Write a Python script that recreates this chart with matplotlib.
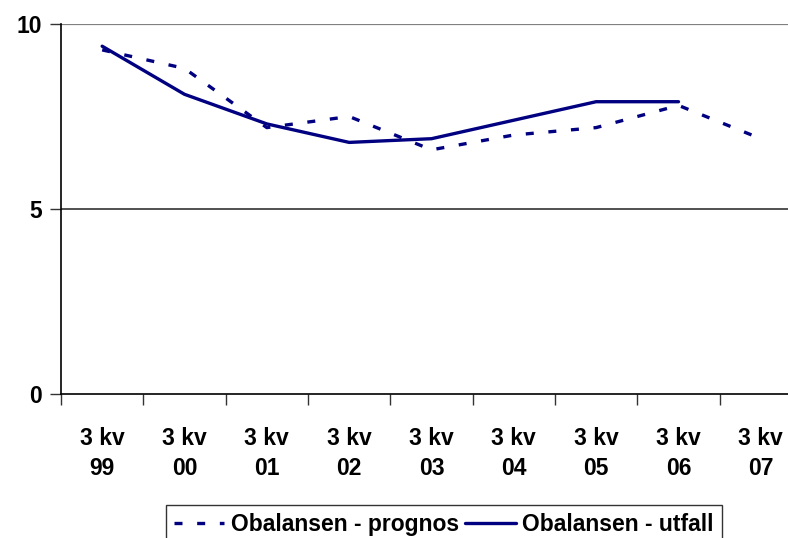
import matplotlib

matplotlib.use("Agg")
import matplotlib.pyplot as plt
import numpy as np

NAVY = "#000080"

categories = ["3 kv\n99", "3 kv\n00", "3 kv\n01", "3 kv\n02", "3 kv\n03",
              "3 kv\n04", "3 kv\n05", "3 kv\n06", "3 kv\n07"]
prognos = [9.3, 8.8, 7.2, 7.5, 6.6, 7.0, 7.2, 7.8, 6.9]
utfall = [9.4, 8.1, 7.3, 6.8, 6.9, 7.4, 7.9, 7.9]
yticks = [0, 5, 10]

plt.rcParams.update({"font.family": "Liberation Sans", "font.weight": "bold"})

fig = plt.figure(figsize=(7.88, 5.38), dpi=100)
W, H = 788, 538
# plot area runs past the right edge of the picture, as in the original
ax = fig.add_axes([61 / W, 1 - 394 / H, (802 - 61) / W, (394 - 24) / H])

x = np.arange(len(categories))
ax.plot(x, prognos, color=NAVY, linewidth=2.4, dashes=(2.4, 4.4),
        label="Obalansen - prognos")
ax.plot(x[:len(utfall)], utfall, color=NAVY, linewidth=2.4,
        solid_capstyle="round", label="Obalansen - utfall")

ax.set_xlim(-0.5, len(categories) - 0.5)
ax.set_ylim(0, 10)
ax.set_yticks(yticks)
ax.set_yticklabels([str(v) for v in yticks], fontsize=16.5)
ax.set_xticks(x)
ax.set_xticklabels(categories, fontsize=16.5, linespacing=1.38)
ax.set_xticks(np.arange(len(categories) + 1) - 0.5, minor=True)
ax.tick_params(axis="x", which="major", length=0, pad=24)
ax.tick_params(axis="x", which="minor", length=8, width=1, color="#333333")
ax.tick_params(axis="y", length=8, width=1, pad=6, color="#333333")

ax.axhline(10, color="#808080", linewidth=1.6, zorder=0)
ax.axhline(5, color="#333333", linewidth=1.2, zorder=0)

for s in ("top", "right"):
    ax.spines[s].set_visible(False)
ax.spines["left"].set_linewidth(1.2)
ax.spines["bottom"].set_linewidth(1.2)

leg = fig.legend(loc="upper left", bbox_to_anchor=(166 / W, 1 - 505 / H),
                 ncol=2, fontsize=16.5, frameon=True, fancybox=False,
                 edgecolor="black", handlelength=2.2, handletextpad=0.3,
                 columnspacing=0.25, borderpad=0.35, borderaxespad=0)
leg.get_frame().set_linewidth(1.0)

fig.savefig("out.png", dpi=100, facecolor="white")
